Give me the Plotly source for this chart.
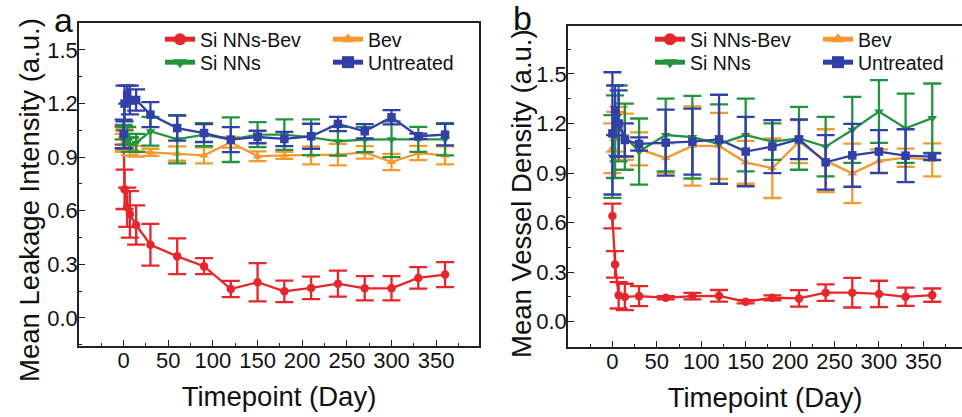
import plotly.graph_objects as go

# ---------------- data ----------------
series_names = ["Si NNs-Bev", "Bev", "Si NNs", "Untreated"]
series_colors = ["#E5262B", "#F39A2E", "#23933F", "#3040A6"]
series_symbols = ["circle", "triangle-up", "triangle-down", "square"]

days_a = [0, 1, 4, 7, 14, 30, 60, 90, 120, 150, 180, 210, 240, 270, 300, 330, 360]
leak_sinnsbev = [1.02, 0.72, 0.62, 0.58, 0.52, 0.41, 0.345, 0.29, 0.162, 0.20, 0.149, 0.168, 0.192, 0.166, 0.166, 0.224, 0.243]
leak_sinnsbev_err = [0.05, 0.11, 0.11, 0.13, 0.11, 0.117, 0.10, 0.045, 0.045, 0.107, 0.06, 0.063, 0.073, 0.068, 0.068, 0.06, 0.07]
leak_bev = [0.98, 1.00, 0.97, 0.96, 0.933, 0.927, 0.92, 0.91, 0.983, 0.905, 0.91, 0.91, 0.914, 0.927, 0.873, 0.923, 0.91]
leak_bev_err = [0.05, 0.06, 0.04, 0.05, 0.03, 0.02, 0.04, 0.045, 0.03, 0.027, 0.02, 0.05, 0.06, 0.035, 0.045, 0.04, 0.05]
leak_sinns = [1.04, 1.00, 1.02, 0.97, 0.98, 1.045, 1.00, 1.026, 0.998, 1.026, 1.026, 1.011, 0.989, 0.998, 1.00, 1.00, 1.00]
leak_sinns_err = [0.04, 0.05, 0.05, 0.04, 0.05, 0.08, 0.135, 0.065, 0.125, 0.07, 0.085, 0.10, 0.08, 0.07, 0.10, 0.07, 0.09]
leak_untreated = [1.03, 1.20, 1.25, 1.22, 1.22, 1.138, 1.063, 1.035, 0.998, 1.013, 1.002, 1.017, 1.086, 1.045, 1.123, 1.017, 1.026]
leak_untreated_err = [0.08, 0.10, 0.05, 0.08, 0.06, 0.07, 0.07, 0.05, 0.07, 0.035, 0.04, 0.07, 0.04, 0.04, 0.04, 0.015, 0.06]

days_b = [0, 3, 7, 14, 30, 60, 90, 120, 150, 180, 210, 240, 270, 300, 330, 360]
vd_sinnsbev = [0.64, 0.347, 0.16, 0.15, 0.155, 0.145, 0.155, 0.157, 0.121, 0.145, 0.141, 0.176, 0.176, 0.168, 0.151, 0.161]
vd_sinnsbev_err = [0.075, 0.08, 0.08, 0.08, 0.06, 0.01, 0.02, 0.035, 0.01, 0.015, 0.05, 0.05, 0.09, 0.08, 0.055, 0.04]
vd_bev = [1.05, 1.15, 1.20, 1.12, 1.046, 0.99, 1.064, 1.064, 0.965, 0.929, 1.09, 0.975, 0.898, 0.973, 0.993, 0.98]
vd_bev_err = [0.15, 0.12, 0.10, 0.14, 0.10, 0.09, 0.24, 0.20, 0.13, 0.18, 0.13, 0.19, 0.18, 0.07, 0.055, 0.10]
vd_sinns = [1.00, 1.12, 1.20, 1.12, 1.03, 1.13, 1.117, 1.076, 1.13, 1.09, 1.11, 1.06, 1.161, 1.272, 1.171, 1.232]
vd_sinns_err = [0.25, 0.25, 0.23, 0.20, 0.20, 0.22, 0.25, 0.24, 0.22, 0.11, 0.19, 0.18, 0.20, 0.19, 0.21, 0.21]
vd_untreated = [1.14, 1.28, 1.20, 1.10, 1.076, 1.084, 1.09, 1.104, 1.03, 1.06, 1.104, 0.965, 1.007, 1.03, 1.005, 0.999]
vd_untreated_err = [0.37, 0.15, 0.20, 0.10, 0.04, 0.20, 0.20, 0.27, 0.21, 0.16, 0.12, 0.165, 0.19, 0.13, 0.16, 0.02]

x_tickvals = [0, 50, 100, 150, 200, 250, 300, 350]
y_tickvals = [0.0, 0.3, 0.6, 0.9, 1.2, 1.5]

panel_a = [leak_sinnsbev, leak_bev, leak_sinns, leak_untreated]
panel_a_err = [leak_sinnsbev_err, leak_bev_err, leak_sinns_err, leak_untreated_err]
panel_b = [vd_sinnsbev, vd_bev, vd_sinns, vd_untreated]
panel_b_err = [vd_sinnsbev_err, vd_bev_err, vd_sinns_err, vd_untreated_err]

# ---------------- figure ----------------
W, H = 962, 417
FONT = "Liberation Sans, Arial, sans-serif"
fig = go.Figure()

def add_panel(days, values, errs, xa, ya, legends):
    for i in range(4):
        fig.add_trace(go.Scatter(
            x=days, y=values[i], name=series_names[i],
            mode="lines+markers",
            line=dict(color=series_colors[i], width=2.3),
            marker=dict(color=series_colors[i], symbol=series_symbols[i], size=8.5),
            error_y=dict(type="data", array=errs[i], visible=True,
                         color=series_colors[i], thickness=2.3, width=9),
            xaxis=xa, yaxis=ya, legend=legends[i // 2],
        ))

add_panel(days_a, panel_a, panel_a_err, "x", "y", ["legend", "legend2"])
add_panel(days_b, panel_b, panel_b_err, "x2", "y2", ["legend3", "legend4"])

def px_x(p):
    return p / W

def px_y(p):
    return 1 - p / H

axis_common = dict(
    showline=True, linecolor="#222", linewidth=1.6, mirror=True,
    ticks="inside", ticklen=6, tickwidth=1.4, tickcolor="#222",
    showgrid=False, zeroline=False, automargin=False,
    tickfont=dict(family=FONT, size=22, color="#111"),
    title_font=dict(family=FONT, size=27.5, color="#111"),
)
minor_x = dict(dtick=25, tick0=0, ticks="inside", ticklen=3, tickwidth=1.2, tickcolor="#222")
minor_y = dict(dtick=0.15, tick0=0, ticks="inside", ticklen=3, tickwidth=1.2, tickcolor="#222")

def legend_at(x, y):
    return dict(x=px_x(x), y=px_y(y), xanchor="left", yanchor="top",
                orientation="h", entrywidth=123, entrywidthmode="pixels",
                bgcolor="rgba(0,0,0,0)", font=dict(family=FONT, size=19.5, color="#111"),
                tracegroupgap=0, itemsizing="constant")

fig.update_layout(
    width=W, height=H,
    margin=dict(l=0, r=0, t=0, b=0, autoexpand=False),
    paper_bgcolor="white", plot_bgcolor="white",
    font=dict(family=FONT, color="#111"),
    xaxis=dict(axis_common, domain=[px_x(79), px_x(479)], range=[-50, 398],
               tickvals=x_tickvals, anchor="y", minor=minor_x, ticklabelstandoff=-6,
               title=dict(text="Timepoint (Day)", standoff=15)),
    yaxis=dict(axis_common, domain=[px_y(346), px_y(23)], range=[-0.157, 1.651],
               tickvals=y_tickvals, tickformat=".1f", anchor="x", minor=minor_y,
               ticklabelstandoff=-5),
    xaxis2=dict(axis_common, domain=[px_x(568), 1.0], range=[-50, 393.5],
                tickvals=x_tickvals, anchor="y2", minor=minor_x, ticklabelstandoff=-6,
                title=dict(text="Timepoint (Day)", standoff=15)),
    yaxis2=dict(axis_common, domain=[px_y(347), px_y(26)], range=[-0.153, 1.79],
                tickvals=y_tickvals, tickformat=".1f", anchor="x2", minor=minor_y,
                ticklabelstandoff=-5),
    legend=legend_at(160, 20),
    legend2=legend_at(160, 43),
    legend3=legend_at(650, 20),
    legend4=legend_at(650, 43),
    annotations=[
        dict(text="Mean Leakage Intensity (a.u.)", textangle=-90, x=px_x(29), y=px_y(200),
             xref="paper", yref="paper", xanchor="center", yanchor="middle",
             showarrow=False, font=dict(family=FONT, size=27.5, color="#111")),
        dict(text="Mean Vessel Density (a.u.)", textangle=-90, x=px_x(521), y=px_y(194),
             xref="paper", yref="paper", xanchor="center", yanchor="middle",
             showarrow=False, font=dict(family=FONT, size=27.5, color="#111")),
        dict(text="a", x=px_x(63), y=px_y(20), xref="paper", yref="paper",
             xanchor="center", yanchor="middle",
             showarrow=False, font=dict(family=FONT, size=34, color="#111")),
        dict(text="b", x=px_x(522), y=px_y(18), xref="paper", yref="paper",
             xanchor="center", yanchor="middle",
             showarrow=False, font=dict(family=FONT, size=34, color="#111")),
    ],
)

fig.write_html("out.html", config={"displayModeBar": False},
               post_script="document.body.style.margin='0px';")
